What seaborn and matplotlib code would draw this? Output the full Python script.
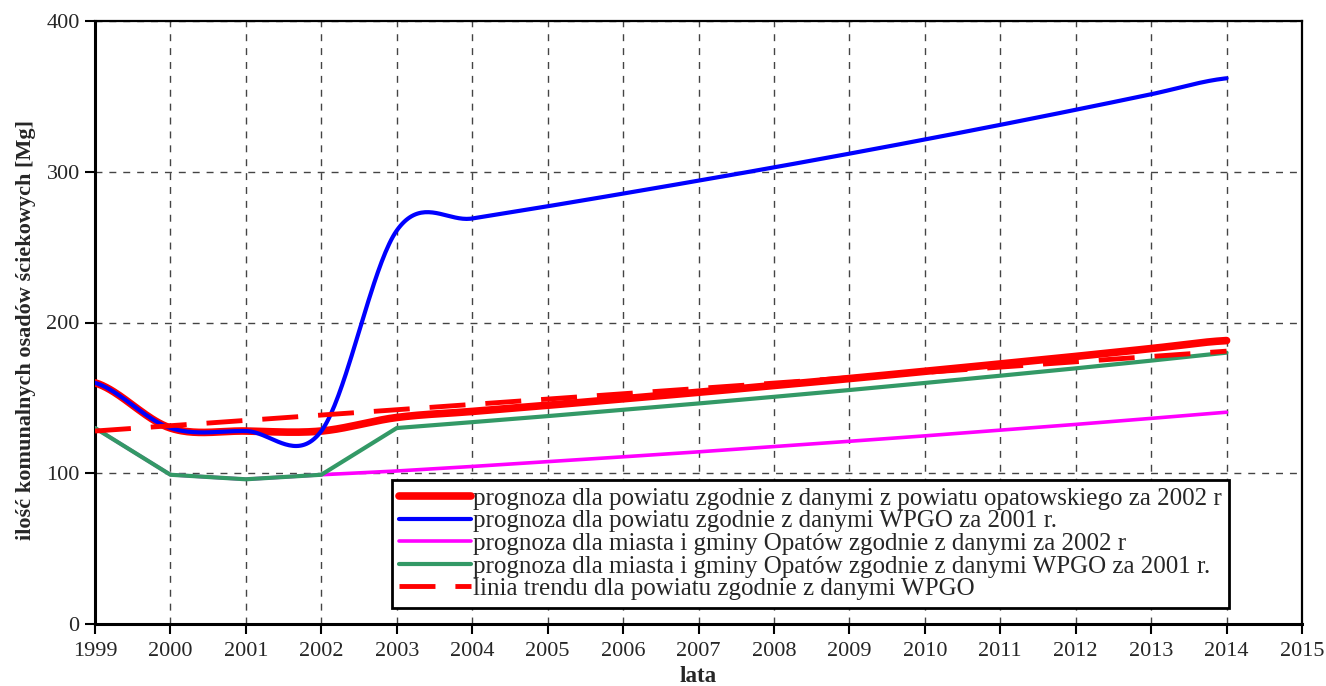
import numpy as np
import pandas as pd
import matplotlib
matplotlib.use("Agg")
import matplotlib.pyplot as plt
import seaborn as sns

years = list(range(1999, 2015))
red_powiat = [160, 130, 128, 128, 137, 141.0, 145.1, 149.4, 153.7, 158.2, 162.8, 167.6, 172.5, 177.5, 182.7, 188.0]
blue_wpgo = [160, 130, 128, 128, 261, 269, 277.1, 285.5, 294.1, 302.9, 312.0, 321.4, 331.1, 341.1, 351.4, 362.0]
magenta_miasto = [130, 99, 96, 99, 101.5, 104.5, 107.7, 110.9, 114.2, 117.7, 121.2, 124.8, 128.6, 132.4, 136.4, 140.5]
green_miasto = [130, 99, 96, 99, 130, 133.9, 137.9, 142.1, 146.3, 150.7, 155.2, 159.9, 164.7, 169.6, 174.7, 180.0]
trend_years = [1999, 2014]
trend_vals = [128, 181]

labels = [
    "prognoza dla powiatu zgodnie z danymi z powiatu opatowskiego za 2002 r",
    "prognoza dla powiatu zgodnie z danymi WPGO za 2001 r.",
    "prognoza dla miasta i gminy Opatów zgodnie z danymi za 2002 r",
    "prognoza dla miasta i gminy Opatów zgodnie z danymi WPGO za 2001 r.",
    "linia trendu dla powiatu zgodnie z danymi WPGO",
]
x_ticks = list(range(1999, 2016))
y_ticks = [0, 100, 200, 300, 400]


def catmull_rom(x, y, n=40):
    x = np.asarray(x, float)
    y = np.asarray(y, float)
    m = len(x)
    tang = np.zeros(m)
    for i in range(m):
        if i == 0:
            tang[i] = (y[1] - y[0]) / 2.0
        elif i == m - 1:
            tang[i] = (y[-1] - y[-2]) / 2.0
        else:
            tang[i] = (y[i + 1] - y[i - 1]) / 2.0
    xs, ys = [], []
    for i in range(m - 1):
        t = np.linspace(0, 1, n, endpoint=(i == m - 2))
        h00 = 2 * t**3 - 3 * t**2 + 1
        h10 = t**3 - 2 * t**2 + t
        h01 = -2 * t**3 + 3 * t**2
        h11 = t**3 - t**2
        ys.append(h00 * y[i] + h10 * tang[i] + h01 * y[i + 1] + h11 * tang[i + 1])
        xs.append(x[i] + t * (x[i + 1] - x[i]))
    return np.concatenate(xs), np.concatenate(ys)


sns.set_style("white")
plt.rcParams["font.family"] = ["Liberation Serif", "DejaVu Serif"]

fig = plt.figure(figsize=(13.26, 6.86), dpi=100)
ax = fig.add_axes([95 / 1326, 1 - 624 / 686, (1302 - 95) / 1326, (624 - 21) / 686])

rx, ry = catmull_rom(years, red_powiat)
bx, by = catmull_rom(years, blue_wpgo)

sns.lineplot(x=rx, y=ry, ax=ax, color="#FF0000", lw=5.5, label=labels[0], zorder=3,
             solid_capstyle="round")
sns.lineplot(x=bx, y=by, ax=ax, color="#0000FF", lw=3.0, label=labels[1], zorder=4,
             solid_capstyle="round")
sns.lineplot(x=years, y=magenta_miasto, ax=ax, color="#FF00FF", lw=2.6, label=labels[2], zorder=3,
             solid_capstyle="round")
sns.lineplot(x=years, y=green_miasto, ax=ax, color="#339966", lw=3.0, label=labels[3], zorder=3,
             solid_capstyle="round")
sns.lineplot(x=trend_years, y=trend_vals, ax=ax, color="#FF0000", lw=3.5, label=labels[4], zorder=5)
ax.lines[-1].set_dashes([7.4, 4.1])

ax.set_xlim(1999, 2015)
ax.set_ylim(0, 400)
ax.set_xticks(x_ticks)
ax.set_xticklabels([str(v) for v in x_ticks])
ax.set_yticks(y_ticks)
ax.set_yticklabels([str(v) for v in y_ticks])
ax.tick_params(axis="both", direction="out", length=7, width=1.5, labelsize=16, color="black",
               left=True, bottom=True)
ax.tick_params(axis="x", pad=6)
ax.tick_params(axis="y", pad=4)
ax.grid(True, color="#444444", linestyle=(0, (5, 5)), linewidth=1.0, zorder=0)
ax.set_axisbelow(True)
for name, sp in ax.spines.items():
    sp.set_visible(True)
    sp.set_color("black")
    sp.set_linewidth(1.6 if name in ("top", "right") else 2.2)

ax.set_xlabel("lata", fontsize=16.5, fontweight="bold")
ax.xaxis.set_label_coords(0.5, (624 - 666) / 603)
ax.set_ylabel("ilość komunalnych osadów ściekowych [Mg]", fontsize=16, fontweight="bold")
ax.yaxis.set_label_coords((36 - 95) / 1207, (624 - 330) / 603)

leg = ax.legend(loc="upper left", bbox_to_anchor=(0.246, (624 - 480) / 603), fontsize=18, frameon=True,
                fancybox=False, edgecolor="black", framealpha=1, borderpad=0.3,
                labelspacing=0.0, handlelength=2.85, handletextpad=0.1, borderaxespad=0)
leg.get_frame().set_linewidth(2.0)
leg.set_zorder(10)

fig.savefig("out.png", dpi=100)
